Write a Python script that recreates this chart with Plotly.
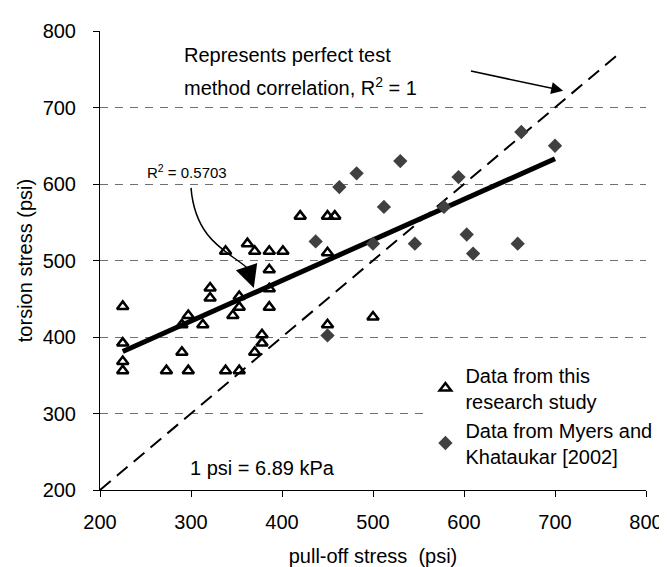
import plotly.graph_objects as go

# Data from this research study (triangles)
study_x = [225, 225, 225, 225, 273, 290, 290, 297, 297, 313, 321, 321, 338, 338,
           346, 353, 353, 353, 362, 370, 370, 378, 378, 386, 386, 386, 386, 401,
           420, 450, 458, 450, 450, 500]
study_y = [440, 392, 368, 356, 356, 416, 380, 428, 356, 416, 464, 451, 512, 356,
           428, 453, 439, 356, 522, 512, 380, 403, 392, 512, 488, 463, 439, 512,
           558, 558, 558, 510, 416, 426]

# Data from Myers and Khataukar [2002] (diamonds)
myers_x = [437, 450, 463, 482, 500, 512, 530, 546, 578, 594, 603, 610, 659, 663, 700]
myers_y = [525, 402, 596, 614, 522, 570, 630, 522, 570, 609, 534, 509, 522, 668, 650]

# Linear trend line endpoints (R^2 = 0.5703)
trend_x = [225, 700]
trend_y = [381, 633]

# Perfect correlation line
perfect_x = [200, 770]
perfect_y = [200, 770]

x_ticks = [200, 300, 400, 500, 600, 700, 800]
y_ticks = [200, 300, 400, 500, 600, 700, 800]

FONT = "Liberation Sans, Arial, sans-serif"

fig = go.Figure()

fig.add_trace(go.Scatter(x=perfect_x, y=perfect_y, mode="lines",
                         line=dict(color="black", width=2, dash="14px,8px"),
                         showlegend=False, hoverinfo="skip"))
fig.add_trace(go.Scatter(x=trend_x, y=trend_y, mode="lines",
                         line=dict(color="black", width=5),
                         showlegend=False, hoverinfo="skip"))
fig.add_trace(go.Scatter(x=study_x, y=study_y, mode="markers",
                         name="Data from this<br>research study",
                         marker=dict(symbol="triangle-up-open", size=10, color="black",
                                     line=dict(width=2.5, color="black"))))
fig.add_trace(go.Scatter(x=myers_x, y=myers_y, mode="markers",
                         name="Data from Myers and<br>Khataukar [2002]",
                         marker=dict(symbol="diamond", size=11, color="#404040",
                                     line=dict(width=0))))

# curved arrow path for R^2 label
fig.add_shape(type="path", xref="x", yref="y",
              path="M 300,595 C 305,524 343,511 362,490",
              line=dict(color="black", width=1.5))

annotations = [
    dict(x=290, y=768, xref="x", yref="y", xanchor="left", yanchor="middle",
         align="left", showarrow=False, text="Represents perfect test",
         font=dict(size=20, color="black", family=FONT)),
    dict(x=290, y=727, xref="x", yref="y", xanchor="left", yanchor="middle",
         align="left", showarrow=False,
         text="method correlation, R<sup>2</sup> = 1",
         font=dict(size=20, color="black", family=FONT)),
    dict(x=709, y=722, ax=606, ay=748, xref="x", yref="y", axref="x", ayref="y",
         text="", showarrow=True, arrowhead=2, arrowsize=1.6, arrowwidth=1.5,
         arrowcolor="black"),
    dict(x=296, y=616, xref="x", yref="y", xanchor="center", yanchor="middle",
         showarrow=False, text="R<sup>2</sup> = 0.5703",
         font=dict(size=15, color="black", family=FONT)),
    dict(x=369, y=464, ax=361, ay=492, xref="x", yref="y", axref="x", ayref="y",
         text="", showarrow=True, arrowhead=2, arrowsize=3, arrowwidth=1.5,
         arrowcolor="black"),
    dict(x=297, y=229, xref="x", yref="y", xanchor="left", yanchor="middle",
         showarrow=False, text="1 psi = 6.89 kPa",
         font=dict(size=20, color="black", family=FONT)),
]

fig.update_layout(
    width=667, height=567,
    margin=dict(l=92, r=17, t=20, b=79),
    paper_bgcolor="white", plot_bgcolor="white",
    font=dict(family=FONT, size=20, color="black"),
    annotations=annotations,
    legend=dict(x=0.596, y=0.293, xanchor="left", yanchor="top",
                bgcolor="white", font=dict(size=20, color="black", family=FONT),
                itemwidth=30, tracegroupgap=18),
    xaxis=dict(range=[200, 800], tickvals=x_ticks, ticks="outside", ticklen=6,
               tickcolor="black", showline=True, linecolor="black", linewidth=1,
               showgrid=False, zeroline=False, ticklabelstandoff=8,
               tickfont=dict(size=20, family=FONT),
               title=dict(text="pull-off stress  (psi)", standoff=16,
                          font=dict(size=20, family=FONT))),
    yaxis=dict(range=[200, 800], tickvals=y_ticks, ticks="outside", ticklen=6,
               tickcolor="black", showline=True, linecolor="black", linewidth=1,
               showgrid=True, gridcolor="#707070", gridwidth=1, griddash="8px,7px",
               zeroline=False, ticklabelstandoff=13,
               tickfont=dict(size=20, family=FONT),
               title=dict(text="torsion stress (psi)", standoff=4,
                          font=dict(size=20, family=FONT))),
)

fig.write_html("out.html")
